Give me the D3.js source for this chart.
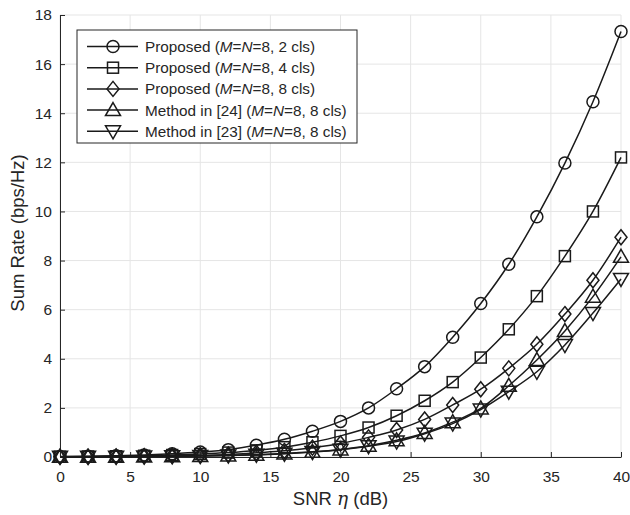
<!DOCTYPE html>
<html>
<head>
<meta charset="utf-8">
<script src="https://cdn.jsdelivr.net/npm/d3@7"></script>
<style>
  body { margin: 0; background: #fff; }
  text { font-family: "Liberation Sans", Arial, sans-serif; fill: #262626; }
</style>
</head>
<body>
<script>
const snr = [0, 2, 4, 6, 8, 10, 12, 14, 16, 18, 20, 22, 24, 26, 28, 30, 32, 34, 36, 38, 40];

const prop2 = [0.02, 0.03, 0.05, 0.08, 0.13, 0.2, 0.3, 0.48, 0.72, 1.05, 1.45, 2.0, 2.78, 3.68, 4.88, 6.25, 7.85, 9.78, 11.97, 14.47, 17.33];
const prop4 = [0.01, 0.02, 0.03, 0.05, 0.08, 0.12, 0.18, 0.27, 0.4, 0.6, 0.86, 1.2, 1.68, 2.29, 3.05, 4.05, 5.2, 6.55, 8.18, 10.0, 12.2];
const prop8 = [0.01, 0.01, 0.02, 0.03, 0.05, 0.07, 0.1, 0.17, 0.25, 0.38, 0.55, 0.8, 1.1, 1.53, 2.12, 2.76, 3.61, 4.59, 5.82, 7.2, 8.95];
const ref24 = [0.01, 0.01, 0.01, 0.02, 0.03, 0.04, 0.06, 0.09, 0.14, 0.21, 0.31, 0.46, 0.68, 0.98, 1.42, 1.98, 2.9, 3.95, 5.13, 6.53, 8.15];
const ref23 = [0.01, 0.01, 0.01, 0.02, 0.03, 0.04, 0.06, 0.09, 0.13, 0.2, 0.3, 0.44, 0.63, 0.95, 1.36, 1.93, 2.66, 3.47, 4.56, 5.86, 7.25];

const seriesNames = ["2 cls", "4 cls", "8 cls", "8 cls", "8 cls"];
const seriesPrefix = ["Proposed", "Proposed", "Proposed", "Method in [24]", "Method in [23]"];
const seriesData = [prop2, prop4, prop8, ref24, ref23];
const markers = ["circle", "square", "diamond", "up", "down"];

const xTicks = [0, 5, 10, 15, 20, 25, 30, 35, 40];
const yTicks = [0, 2, 4, 6, 8, 10, 12, 14, 16, 18];

const width = 630, height = 515;
const margin = { left: 60, right: 9, top: 15, bottom: 58 };

const svg = d3.select("body").append("svg")
  .attr("width", width)
  .attr("height", height);

const x = d3.scaleLinear().domain([0, 40]).range([margin.left, width - margin.right]);
const y = d3.scaleLinear().domain([0, 18]).range([height - margin.bottom, margin.top]);

// grid
svg.append("g").selectAll("line").data(xTicks).enter().append("line")
  .attr("x1", d => x(d)).attr("x2", d => x(d))
  .attr("y1", y(0)).attr("y2", y(18))
  .attr("stroke", "#e5e5e5").attr("stroke-width", 1);
svg.append("g").selectAll("line").data(yTicks).enter().append("line")
  .attr("x1", x(0)).attr("x2", x(40))
  .attr("y1", d => y(d)).attr("y2", d => y(d))
  .attr("stroke", "#e5e5e5").attr("stroke-width", 1);

// axes
const xAxis = svg.append("g")
  .attr("transform", `translate(0,${y(0)})`)
  .call(d3.axisBottom(x).tickValues(xTicks).tickSizeInner(-5).tickSizeOuter(0).tickPadding(14));
const yAxis = svg.append("g")
  .attr("transform", `translate(${x(0)},0)`)
  .call(d3.axisLeft(y).tickValues(yTicks).tickSizeInner(-5).tickSizeOuter(0).tickPadding(8));
[xAxis, yAxis].forEach(a => {
  a.select(".domain").attr("stroke", "#262626").attr("stroke-width", 1);
  a.selectAll(".tick line").attr("stroke", "#262626");
  a.selectAll(".tick text").attr("font-size", 15.5).attr("fill", "#262626")
    .attr("font-family", "Liberation Sans, Arial, sans-serif");
});

// axis labels
const xl = svg.append("text")
  .attr("x", x(20)).attr("y", 505)
  .attr("text-anchor", "middle").attr("font-size", 18.5);
xl.append("tspan").text("SNR ");
xl.append("tspan").attr("font-family", "DejaVu Serif").attr("font-style", "italic").text("η");
xl.append("tspan").text(" (dB)");

svg.append("text")
  .attr("transform", `translate(24,${y(9) - 3}) rotate(-90)`)
  .attr("text-anchor", "middle").attr("font-size", 18.5)
  .text("Sum Rate (bps/Hz)");

function drawMarker(g, type, cx, cy) {
  const s = 6;
  let el;
  if (type === "circle") {
    el = g.append("circle").attr("cx", cx).attr("cy", cy).attr("r", s);
  } else if (type === "square") {
    el = g.append("rect").attr("x", cx - 5.5).attr("y", cy - 5.5).attr("width", 11).attr("height", 11);
  } else if (type === "diamond") {
    el = g.append("path").attr("d", `M${cx},${cy - 7.5}L${cx + 6},${cy}L${cx},${cy + 7.5}L${cx - 6},${cy}Z`);
  } else if (type === "up") {
    el = g.append("path").attr("d", `M${cx},${cy - 7.5}L${cx + 7.5},${cy + 5.5}L${cx - 7.5},${cy + 5.5}Z`);
  } else {
    el = g.append("path").attr("d", `M${cx},${cy + 7.5}L${cx + 7.5},${cy - 5.5}L${cx - 7.5},${cy - 5.5}Z`);
  }
  el.attr("fill", "none").attr("stroke", "#1a1a1a").attr("stroke-width", 1.5);
}

const line = d3.line()
  .x((d, i) => x(snr[i]))
  .y(d => y(d))
  .curve(d3.curveMonotoneX);

seriesData.forEach((vals, k) => {
  const g = svg.append("g");
  g.append("path").datum(vals)
    .attr("d", line)
    .attr("fill", "none").attr("stroke", "#1a1a1a").attr("stroke-width", 1.5);
  vals.forEach((v, i) => drawMarker(g, markers[k], x(snr[i]), y(v)));
});

// legend
const lg = svg.append("g");
lg.append("rect")
  .attr("x", 77).attr("y", 30).attr("width", 280).attr("height", 113)
  .attr("fill", "#fff").attr("stroke", "#262626").attr("stroke-width", 1);
seriesData.forEach((vals, k) => {
  const ly = 46.5 + k * 21.2;
  lg.append("line").attr("x1", 87).attr("x2", 138).attr("y1", ly).attr("y2", ly)
    .attr("stroke", "#1a1a1a").attr("stroke-width", 1.5);
  drawMarker(lg, markers[k], 113, ly);
  const t = lg.append("text").attr("x", 145).attr("y", ly + 5.5).attr("font-size", 15.3);
  t.append("tspan").text(seriesPrefix[k] + " (");
  t.append("tspan").attr("font-style", "italic").text("M");
  t.append("tspan").text("=");
  t.append("tspan").attr("font-style", "italic").text("N");
  t.append("tspan").text("=8, " + seriesNames[k] + ")");
});
</script>
</body>
</html>
